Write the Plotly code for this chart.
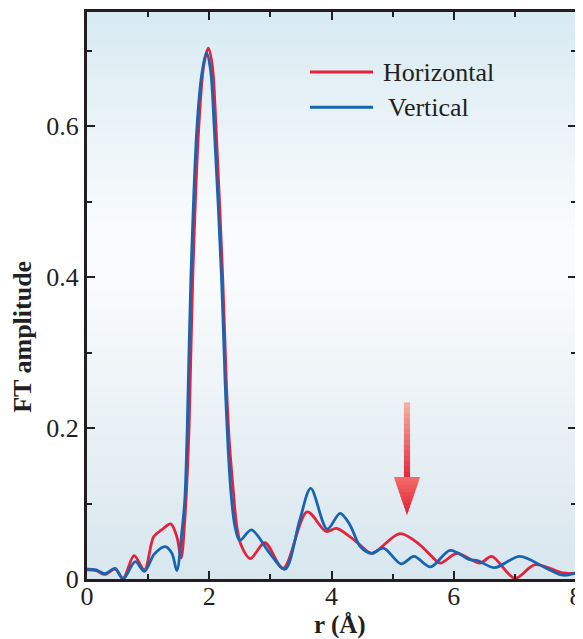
import plotly.graph_objects as go

# ---------------- data ----------------
r_vertical = [0.00, 0.15, 0.29, 0.46, 0.59, 0.79, 0.94, 1.10, 1.28, 1.39, 1.47, 1.55, 1.60,
              1.64, 1.70, 1.80, 1.88, 1.955, 2.02, 2.08, 2.20, 2.26, 2.31, 2.36, 2.42, 2.50, 2.69,
              2.99, 3.24, 3.48, 3.66, 3.93, 4.14, 4.30, 4.47, 4.66, 4.85, 5.14, 5.35, 5.62,
              5.94, 6.25, 6.40, 6.67, 7.08, 7.52, 7.79, 8.00]
ft_vertical = [0.013, 0.012, 0.007, 0.014, 0.000, 0.023, 0.010, 0.033, 0.043, 0.034, 0.011, 0.061, 0.105,
               0.20, 0.40, 0.60, 0.67, 0.697, 0.675, 0.60, 0.40, 0.26, 0.17, 0.11, 0.07, 0.051, 0.065,
               0.034, 0.013, 0.078, 0.120, 0.066, 0.087, 0.072, 0.043, 0.034, 0.041, 0.020, 0.030, 0.016,
               0.038, 0.026, 0.024, 0.015, 0.030, 0.014, 0.005, 0.008]

r_horizontal = [0.00, 0.15, 0.29, 0.46, 0.59, 0.77, 0.94, 1.09, 1.22, 1.37, 1.47, 1.54, 1.60,
                1.67, 1.73, 1.83, 1.91, 1.985, 2.05, 2.11, 2.22, 2.28, 2.33, 2.39, 2.45, 2.52, 2.67,
                2.91, 3.21, 3.60, 3.91, 4.08, 4.30, 4.47, 4.66, 5.12, 5.45, 5.64, 5.78, 6.05,
                6.43, 6.62, 7.00, 7.33, 7.79, 8.00]
ft_horizontal = [0.012, 0.011, 0.006, 0.013, 0.001, 0.031, 0.012, 0.056, 0.065, 0.073, 0.056, 0.028, 0.078,
                 0.20, 0.40, 0.60, 0.68, 0.703, 0.68, 0.60, 0.40, 0.26, 0.18, 0.12, 0.07, 0.045, 0.027,
                 0.048, 0.014, 0.089, 0.063, 0.067, 0.056, 0.045, 0.034, 0.060, 0.045, 0.030, 0.021, 0.034,
                 0.021, 0.030, 0.001, 0.019, 0.008, 0.008]

series_names = ["Horizontal", "Vertical"]
x_title = "r (Å)"
y_title = "FT amplitude"

x_ticks = [0, 2, 4, 6, 8]
x_minor = [1, 3, 5, 7]
y_ticks = [0, 0.2, 0.4, 0.6]
y_minor = [0.1, 0.3, 0.5, 0.7]
y_tick_labels = ["0", "0.2", "0.4", "0.6"]

# arrow marker (data coordinates)
arrow_x = 5.235
arrow_top = 0.234
arrow_head_top = 0.135
arrow_tip = 0.085

RED = "#e4223b"
BLUE = "#1764b0"
INK = "#231f20"
FONT = "Liberation Serif"

fig = go.Figure()
fig.add_trace(go.Scatter(x=r_horizontal, y=ft_horizontal, mode="lines", name=series_names[0],
                         line=dict(color=RED, width=2.8, shape="spline", smoothing=0.9),
                         showlegend=False))
fig.add_trace(go.Scatter(x=r_vertical, y=ft_vertical, mode="lines", name=series_names[1],
                         line=dict(color=BLUE, width=2.8, shape="spline", smoothing=0.9),
                         showlegend=False))

shapes = []
annotations = []


def lerp(c1, c2, t):
    return tuple(round(a + (b - a) * t) for a, b in zip(c1, c2))


# background gradient bands (paper coords)
top_c = (216, 234, 242)
mid_c = (249, 251, 252)
bot_c = (216, 230, 238)
n = 90
for i in range(n):
    y0 = i / n
    y1 = (i + 1) / n
    yc = (y0 + y1) / 2
    if yc < 0.52:
        c = lerp(bot_c, mid_c, yc / 0.52)
    elif yc < 0.62:
        c = mid_c
    else:
        c = lerp(mid_c, top_c, (yc - 0.62) / 0.38)
    shapes.append(dict(type="rect", xref="paper", yref="paper", x0=0, x1=1, y0=y0, y1=y1 + 0.002,
                       fillcolor="rgb(%d,%d,%d)" % c, line=dict(width=0), layer="below"))

# arrow shaft with gradient
m = 14
shaft_top_c = (246, 180, 165)
shaft_bot_c = (228, 40, 60)
for i in range(m):
    t0 = i / m
    t1 = (i + 1) / m
    ya = arrow_top - (arrow_top - arrow_head_top) * t0
    yb = arrow_top - (arrow_top - arrow_head_top) * t1 - 0.002
    c = lerp(shaft_top_c, shaft_bot_c, (t0 + t1) / 2)
    shapes.append(dict(type="rect", xref="x", yref="y", x0=arrow_x - 0.05, x1=arrow_x + 0.05,
                       y0=yb, y1=ya, fillcolor="rgb(%d,%d,%d)" % c, line=dict(width=0)))
# arrow head with gradient (stacked trapezoids)
hw = 0.213
k = 10
head_top_c = (244, 110, 105)
head_bot_c = (222, 30, 55)
for i in range(k):
    t0 = i / k
    t1 = (i + 1) / k
    ya = arrow_head_top - (arrow_head_top - arrow_tip) * t0
    yb = arrow_head_top - (arrow_head_top - arrow_tip) * t1
    w0 = hw * (1 - t0)
    w1 = hw * (1 - t1)
    c = lerp(head_top_c, head_bot_c, (t0 + t1) / 2)
    path = "M %f,%f L %f,%f L %f,%f L %f,%f Z" % (arrow_x - w0, ya, arrow_x + w0, ya,
                                                  arrow_x + w1, yb - 0.001, arrow_x - w1, yb - 0.001)
    shapes.append(dict(type="path", xref="x", yref="y", path=path,
                       fillcolor="rgb(%d,%d,%d)" % c, line=dict(width=0)))

# legend (drawn key: sample line + label)
legend_rows = [(series_names[0], RED, 0.894, 0.601), (series_names[1], BLUE, 0.832, 0.611)]
for name, col, ly, tx in legend_rows:
    shapes.append(dict(type="line", xref="paper", yref="paper", x0=0.456, x1=0.585, y0=ly, y1=ly,
                       line=dict(color=col, width=3)))
    annotations.append(dict(xref="paper", yref="paper", x=tx, y=ly, xanchor="left", yanchor="middle",
                            text=name, showarrow=False,
                            font=dict(family=FONT, size=26, color=INK)))

# axis titles
annotations.append(dict(xref="paper", yref="paper", x=0.518, y=-0.0805, xanchor="center", yanchor="middle",
                        text="<b>%s</b>" % x_title, showarrow=False, borderpad=0,
                        font=dict(family=FONT, size=25, color=INK)))
annotations.append(dict(xref="paper", yref="paper", x=-0.132, y=0.428, xanchor="center", yanchor="middle",
                        text="<b>%s</b>" % y_title, showarrow=False, textangle=-90,
                        font=dict(family=FONT, size=26, color=INK)))

fig.update_layout(
    width=575, height=631,
    margin=dict(l=79, r=7, t=4, b=60, autoexpand=False),
    paper_bgcolor="white",
    plot_bgcolor="rgba(0,0,0,0)",
    shapes=shapes,
    annotations=annotations,
    font=dict(family=FONT, color=INK, size=26),
    showlegend=False,
    xaxis=dict(range=[0, 8], tickvals=x_ticks, ticktext=[str(v) for v in x_ticks],
               ticks="inside", ticklen=8, tickwidth=2, tickcolor=INK,
               minor=dict(tickvals=x_minor, ticks="inside", ticklen=5, tickwidth=2, tickcolor=INK),
               showline=True, linewidth=3, linecolor=INK, mirror="allticks",
               showgrid=False, zeroline=False, automargin=False, ticklabelstandoff=-8,
               tickfont=dict(family=FONT, size=26, color=INK)),
    yaxis=dict(range=[0, 0.751], tickvals=y_ticks, ticktext=y_tick_labels,
               ticks="inside", ticklen=8, tickwidth=2, tickcolor=INK,
               minor=dict(tickvals=y_minor, ticks="inside", ticklen=5, tickwidth=2, tickcolor=INK),
               showline=True, linewidth=3, linecolor=INK, mirror="allticks",
               showgrid=False, zeroline=False, automargin=False,
               tickfont=dict(family=FONT, size=26, color=INK)),
)

fig.write_html("out.html")
